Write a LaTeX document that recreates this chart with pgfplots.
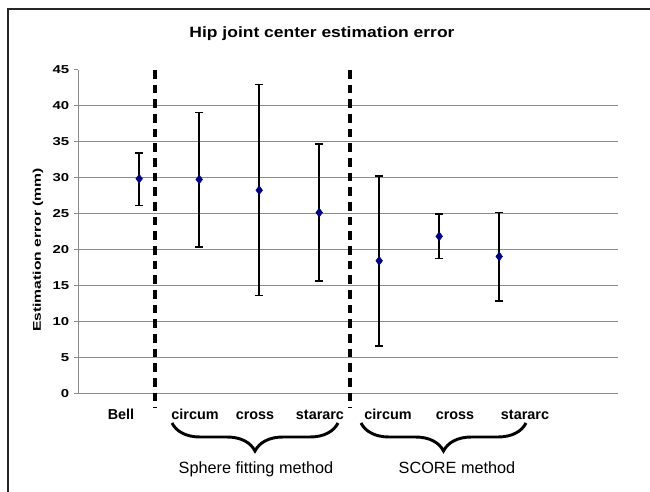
\documentclass[border=0pt]{standalone}
\usepackage{fontspec}
\setmainfont{Liberation Sans}
\newfontfamily\titlefont[FakeStretch=1.17]{Liberation Sans}
\newfontfamily\tickfont[FakeStretch=1.3]{Liberation Sans}
\newfontfamily\ylabfont[FakeStretch=1.4]{Liberation Sans}
\usepackage{pgfplots}
\usepackage{pgfplotstable}
\pgfplotsset{compat=1.18}
\usetikzlibrary{decorations.pathreplacing}
\definecolor{marknavy}{RGB}{0,0,128}
\definecolor{gridgray}{RGB}{140,140,140}

% mean, distance to upper and lower end of the bar (mm)
\pgfplotstableread{
x y ep em
1 29.9 3.6 3.7
2 29.8 9.3 9.4
3 28.3 14.7 14.6
4 25.2 9.5 9.5
5 18.5 11.8 11.8
6 21.9 3.1 3.1
7 19.1 6.1 6.2
}\hjc

\begin{document}
\begin{tikzpicture}[x=0.75pt,y=0.75pt]
\path[use as bounding box] (0,0) rectangle (650,492);
\draw[line width=0.8pt, black!85] (8,0) -- (8,483) -- (650,483);
\begin{axis}[
  at={(58.5pt,73.5pt)}, anchor=south west,
  width=405pt, height=243pt, scale only axis,
  xmin=-0.02, xmax=8.98, ymin=0, ymax=45,
  clip=false,
  axis x line*=bottom, axis y line*=left,
  axis line style={gridgray, line width=0.75pt},
  ytick={0,5,...,40}, extra y ticks={45}, extra y tick style={grid=none},
  ymajorgrids, grid style={gridgray, line width=0.75pt},
  tick align=outside, major tick length=3pt,
  y tick style={gridgray, line width=0.75pt},
  xtick={0.697,1.93,2.93,4.013,5.147,6.263,7.43},
  xticklabels={Bell,circum,cross,stararc,circum,cross,stararc},
  x tick style={draw=none},
  xticklabel style={font=\fontsize{10.8}{12}\selectfont\bfseries, anchor=base, yshift=-16.5pt},
  yticklabel style={font=\tickfont\fontsize{8.6}{10}\selectfont\bfseries},
  /pgf/number format/assume math mode=true,
]
\addplot[black, line width=2.3pt, dash pattern=on 6.5pt off 4.5pt] coordinates {(1.263,45) (1.263,-1.95)};
\addplot[black, line width=2.3pt, dash pattern=on 6.5pt off 4.5pt] coordinates {(4.513,45) (4.513,-1.95)};
\addplot[only marks, mark=diamond*, mark size=3.3pt, color=marknavy,
  error bars/.cd, y dir=both, y explicit,
  error bar style={black, line width=1.8pt},
  error mark options={black, rotate=90, mark size=2.8pt, line width=1.2pt}]
  table[x=x, y=y, y error plus=ep, y error minus=em]{\hjc};
\end{axis}
\node[rotate=90, anchor=base, font=\ylabfont\fontsize{8.4}{10}\selectfont\bfseries] at (41,242) {Estimation error (mm)};
\node[anchor=base, font=\titlefont\fontsize{11.2}{13}\selectfont\bfseries] at (322,454) {Hip joint center estimation error};
\draw[line width=2.2pt, decorate, decoration={brace, mirror, amplitude=21pt}] (172,69) -- (338,69);
\draw[line width=2.2pt, decorate, decoration={brace, mirror, amplitude=21pt}] (361,69) -- (526,69);
\node[anchor=base, font=\fontsize{12.2}{14}\selectfont] at (256,18) {Sphere fitting method};
\node[anchor=base, font=\fontsize{12.2}{14}\selectfont] at (457,18) {SCORE method};
\end{tikzpicture}
\end{document}
